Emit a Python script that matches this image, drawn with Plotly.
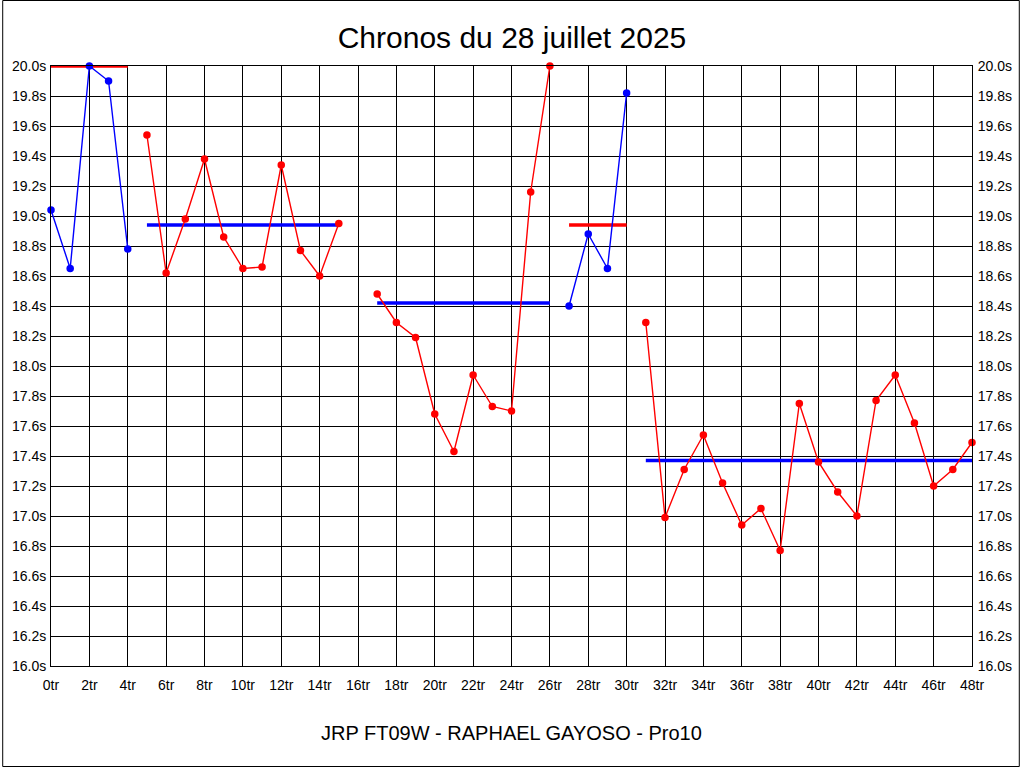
import plotly.graph_objects as go

# ---- data ----
laps_s1 = [0, 1, 2, 3, 4]
times_s1 = [19.04, 18.65, 20.00, 19.90, 18.78]

laps_s2 = [5, 6, 7, 8, 9, 10, 11, 12, 13, 14, 15]
times_s2 = [19.54, 18.62, 18.98, 19.38, 18.86, 18.65, 18.66, 19.34, 18.77, 18.60, 18.95]

laps_s3 = [17, 18, 19, 20, 21, 22, 23, 24, 25, 26]
times_s3 = [18.48, 18.29, 18.19, 17.68, 17.43, 17.94, 17.73, 17.70, 19.16, 20.00]

laps_s4 = [27, 28, 29, 30]
times_s4 = [18.40, 18.88, 18.65, 19.82]

laps_s5 = [31, 32, 33, 34, 35, 36, 37, 38, 39, 40, 41, 42, 43, 44, 45, 46, 47, 48]
times_s5 = [18.29, 16.99, 17.31, 17.54, 17.22, 16.94, 17.05, 16.77, 17.75, 17.36,
            17.16, 17.00, 17.77, 17.94, 17.62, 17.20, 17.31, 17.49]

# average levels per stint: (start lap, end lap, level)
avg_starts = [0, 5, 17, 27, 31]
avg_ends = [4, 15, 26, 30, 48]
avg_levels = [20.00, 18.94, 18.42, 18.94, 17.37]
avg_colors = ["#ff0000", "#0000ff", "#0000ff", "#ff0000", "#0000ff"]

series = [
    (laps_s1, times_s1, "#0000ff"),
    (laps_s2, times_s2, "#ff0000"),
    (laps_s3, times_s3, "#ff0000"),
    (laps_s4, times_s4, "#0000ff"),
    (laps_s5, times_s5, "#ff0000"),
]

x_tickvals = list(range(0, 49, 2))
x_ticktext = [f"{v}tr" for v in x_tickvals]
y_tickvals = [16.0 + 0.2 * i for i in range(21)]
y_ticktext = [f"{v:.1f}s" for v in y_tickvals]

FONT = "Liberation Sans, Arial, sans-serif"

fig = go.Figure()

for s, e, lvl, c in zip(avg_starts, avg_ends, avg_levels, avg_colors):
    fig.add_trace(go.Scatter(x=[s, e], y=[lvl, lvl], mode="lines",
                             line=dict(color=c, width=3.5), hoverinfo="skip",
                             showlegend=False, cliponaxis=False))

for xs, ys, c in series:
    fig.add_trace(go.Scatter(x=xs, y=ys, mode="lines+markers",
                             line=dict(color=c, width=1.4),
                             marker=dict(color=c, size=7.5),
                             showlegend=False, cliponaxis=False))

fig.add_trace(go.Scatter(x=[0], y=[16], yaxis="y2", mode="markers",
                         marker=dict(opacity=0), showlegend=False, hoverinfo="skip"))

axis_common = dict(showline=True, linecolor="black", linewidth=1, mirror=True,
                   gridcolor="black", gridwidth=1, zeroline=False,
                   tickfont=dict(family=FONT, size=14, color="black"))

fig.update_layout(
    width=1024, height=768,
    paper_bgcolor="white", plot_bgcolor="white",
    margin=dict(l=49, r=50, t=66, b=102),
    title=dict(text="Chronos du 28 juillet 2025", x=0.5, xanchor="center",
               y=1 - 37 / 768, yanchor="middle", yref="container",
               font=dict(family=FONT, size=30, color="black")),
    xaxis=dict(range=[0, 48], tickmode="array", tickvals=x_tickvals, ticktext=x_ticktext,
               ticks="outside", ticklen=6, tickcolor="rgba(0,0,0,0)", showgrid=True,
               **axis_common),
    yaxis=dict(range=[16, 20], tickmode="array", tickvals=y_tickvals, ticktext=y_ticktext,
               ticks="outside", ticklen=1, tickcolor="rgba(0,0,0,0)", showgrid=True,
               **axis_common),
    yaxis2=dict(range=[16, 20], overlaying="y", side="right", tickmode="array",
                tickvals=y_tickvals, ticktext=y_ticktext, showgrid=False,
                ticks="outside", ticklen=2, tickcolor="rgba(0,0,0,0)",
                showline=False, zeroline=False,
                tickfont=dict(family=FONT, size=14, color="black")),
    annotations=[dict(text="JRP FT09W - RAPHAEL GAYOSO - Pro10", xref="paper", yref="paper",
                      x=0.5, y=1 - (733 - 66) / 600, xanchor="center", yanchor="middle",
                      showarrow=False, font=dict(family=FONT, size=20, color="black"))],
    shapes=[dict(type="rect", xref="paper", yref="paper",
                 x0=(0.5 - 49) / 925, x1=(1021.5 - 49) / 925,
                 y0=1 - (766.5 - 66) / 600, y1=1 + (66 - 0.5) / 600,
                 line=dict(color="black", width=1), layer="below")],
)

fig.write_html("out.html", config={"displayModeBar": False},
               post_script="document.body.style.margin='0';document.body.style.padding='0';"
                           "document.body.style.overflow='hidden';")
